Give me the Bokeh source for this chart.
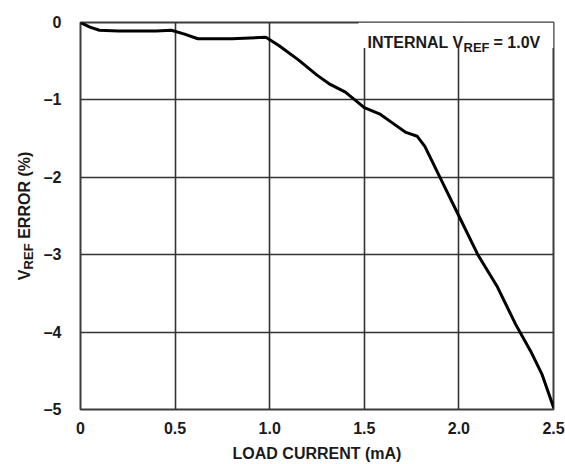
import math
from bokeh.plotting import figure
from bokeh.layouts import row
from bokeh.models import Label, BoxAnnotation, FixedTicker
from bokeh.core.properties import value
from bokeh.embed import file_html
from bokeh.resources import INLINE

# Data
load_current_ma = [0.0, 0.05, 0.1, 0.2, 0.3, 0.4, 0.48, 0.55, 0.62, 0.8, 0.98,
                   1.05, 1.15, 1.25, 1.32, 1.4, 1.45, 1.5, 1.58, 1.65, 1.72,
                   1.78, 1.82, 1.9, 2.0, 2.1, 2.2, 2.3, 2.38, 2.44, 2.5]
vref_error_pct = [0.0, -0.06, -0.1, -0.11, -0.11, -0.11, -0.1, -0.15, -0.21, -0.21, -0.19,
                  -0.3, -0.48, -0.68, -0.8, -0.9, -1.0, -1.1, -1.18, -1.3, -1.42,
                  -1.47, -1.6, -2.0, -2.5, -3.0, -3.4, -3.9, -4.25, -4.55, -4.97]

x_ticks = [0, 0.5, 1.0, 1.5, 2.0, 2.5]
x_tick_labels = ["0", "0.5", "1.0", "1.5", "2.0", "2.5"]
y_ticks = [0, -1, -2, -3, -4, -5]
y_tick_labels = ["0", "\u20131", "\u20132", "\u20133", "\u20134", "\u20135"]

FONT = "Liberation Sans"
TEXT_COLOR = "#1a1a1a"
H = 464
SIDE_W = 40
TOP, BOTTOM = 22, 55

p = figure(width=565 - SIDE_W, height=H, x_range=(0, 2.5), y_range=(-5, 0),
           output_backend="svg", toolbar_location=None,
           min_border_left=80 - SIDE_W, min_border_right=12,
           min_border_top=TOP, min_border_bottom=BOTTOM)

p.outline_line_color = "#3c3c3c"
p.outline_line_width = 2
p.background_fill_color = "white"
p.border_fill_color = "white"

for ax in (p.xaxis, p.yaxis):
    ax.axis_line_color = None
    ax.major_tick_line_color = None
    ax.minor_tick_line_color = None
    ax.major_label_text_font = FONT
    ax.major_label_text_font_style = "bold"
    ax.major_label_text_font_size = "16px"
    ax.major_label_text_color = TEXT_COLOR

p.xaxis.ticker = FixedTicker(ticks=x_ticks)
p.xaxis.major_label_overrides = dict(zip(x_ticks, x_tick_labels))
p.xaxis.major_label_standoff = 6
p.xaxis.axis_label = "LOAD CURRENT (mA)"
p.xaxis.axis_label_text_font = FONT
p.xaxis.axis_label_text_font_style = "bold"
p.xaxis.axis_label_text_font_size = "16px"
p.xaxis.axis_label_text_color = TEXT_COLOR
p.xaxis.axis_label_standoff = 8

p.yaxis.ticker = FixedTicker(ticks=y_ticks)
p.yaxis.major_label_overrides = dict(zip(y_ticks, y_tick_labels))
p.yaxis.major_label_standoff = 13

p.xgrid.ticker = FixedTicker(ticks=x_ticks)
p.ygrid.ticker = FixedTicker(ticks=y_ticks)
for g in (p.xgrid, p.ygrid):
    g.grid_line_color = "#333333"
    g.grid_line_width = 1.6

# white box behind the annotation (interrupts the grid lines)
p.add_layout(BoxAnnotation(left=1.47, right=2.5, top=0, bottom=-0.33,
                           fill_color="white", fill_alpha=1.0,
                           line_alpha=0, level="underlay"))

p.line(load_current_ma, vref_error_pct, line_color="black", line_width=3,
       line_join="round", line_cap="round")


def lab(fig, text, x, y, size):
    fig.add_layout(Label(x=x, y=y, x_units="screen", y_units="screen", text=text,
                         text_align="left", text_baseline="alphabetic",
                         text_font=FONT, text_font_style="bold",
                         text_font_size=size, text_color=TEXT_COLOR))

# annotation: INTERNAL V_REF = 1.0V
lab(p, "INTERNAL V", 287, 367, "16px")
lab(p, "REF", 383, 362, "13px")
lab(p, "= 1.0V", 413, 367, "16px")

# narrow side figure carrying the y axis title V_REF ERROR (%);
# same top/bottom borders as the main plot, so its value axis lines up
side = figure(width=SIDE_W, height=H, x_range=(0, SIDE_W), y_range=(-5, 0),
              output_backend="svg", toolbar_location=None,
              x_axis_location=None, y_axis_location=None,
              min_border_left=0, min_border_right=0,
              min_border_top=TOP, min_border_bottom=BOTTOM,
              outline_line_color=None)
side.grid.visible = False
side.background_fill_color = "white"
side.border_fill_color = "white"


def vtext(text, x, y, size):
    side.text(x=[x], y=[y], text=[text], angle=math.pi / 2,
              text_align="left", text_baseline="alphabetic",
              text_font=value(FONT), text_font_style="bold",
              text_font_size=size, text_color=TEXT_COLOR)


vtext("V", 24, -3.33, "16px")
vtext("REF", 28, -3.19, "13px")
vtext("ERROR (%)", 24, -2.795, "16px")

layout = row(side, p, spacing=0)
open("out.html", "w").write(file_html(layout, INLINE))
